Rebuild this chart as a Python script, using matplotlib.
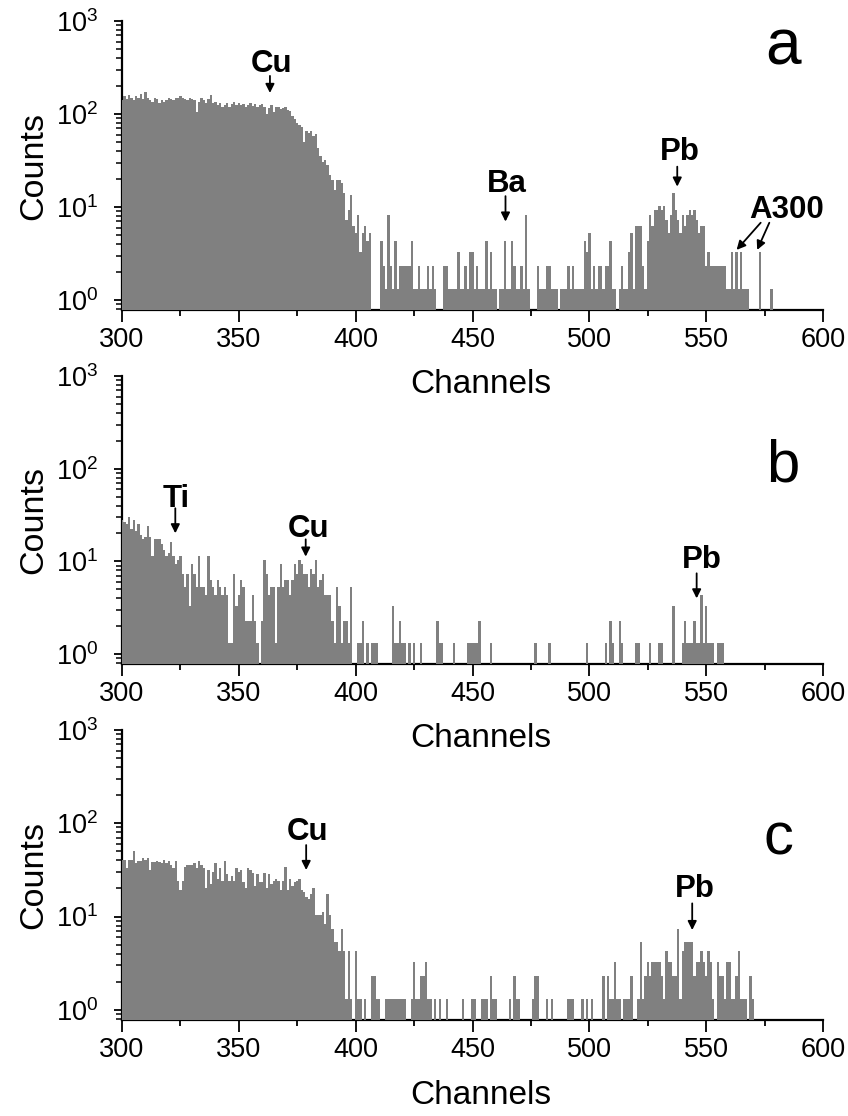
import numpy as np
import matplotlib.pyplot as plt
from matplotlib.ticker import MultipleLocator, LogLocator, NullFormatter

plt.rcParams['font.family'] = ['Liberation Sans', 'DejaVu Sans']
plt.rcParams['mathtext.default'] = 'regular'

channels = np.arange(300, 600)

# counts per channel, 10 channels per row (300..599)
counts_a = [
    140, 155, 145, 160, 150, 140, 155, 150, 165, 145,
    170, 150, 140, 135, 150, 145, 130, 140, 135, 140,
    150, 145, 140, 150, 148, 155, 150, 145, 140, 150,
    145, 140, 105, 135, 150, 140, 130, 145, 160, 130,
    135, 125, 130, 120, 125, 130, 120, 128, 135, 125,
    130, 125, 128, 120, 125, 130, 122, 128, 120, 125,
    128, 120, 100, 115, 125, 105, 118, 120, 112, 115,
    118, 110, 108, 95, 88, 80, 75, 72, 50, 65,
    62, 65, 58, 60, 43, 35, 30, 32, 28, 22,
    19, 15, 19, 19, 18, 14, 7, 9, 13, 6,
    5, 8, 3, 5, 6, 4, 5, 0, 0, 0,
    0, 4, 2, 1, 8, 2, 1, 4, 1, 2,
    2, 2, 2, 2, 4, 1, 1, 2, 1, 1,
    1, 2, 1, 2, 1, 0, 0, 0, 2, 2,
    1, 1, 1, 1, 3, 1, 1, 2, 1, 3,
    3, 1, 2, 1, 1, 1, 4, 1, 3, 1,
    1, 0, 1, 1, 4, 1, 1, 4, 2, 1,
    1, 2, 1, 8, 1, 0, 0, 0, 2, 1,
    1, 1, 2, 2, 1, 1, 1, 0, 1, 1,
    1, 2, 1, 2, 1, 1, 1, 1, 4, 3,
    5, 1, 2, 1, 2, 2, 1, 2, 2, 4,
    1, 1, 0, 1, 2, 1, 1, 3, 5, 1,
    6, 6, 6, 2, 1, 4, 8, 6, 9, 9,
    10, 9, 10, 7, 5, 8, 14, 9, 7, 5,
    8, 6, 8, 9, 8, 9, 7, 5, 6, 6,
    2, 3, 2, 2, 2, 2, 2, 2, 2, 1,
    1, 3, 1, 3, 1, 3, 1, 1, 1, 0,
    0, 0, 0, 3, 0, 0, 0, 0, 1, 0,
    0, 0, 0, 0, 0, 0, 0, 0, 0, 0,
    0, 0, 0, 0, 0, 0, 0, 0, 0, 0,
]

counts_b = [
    28, 26, 25, 30, 22, 28, 21, 25, 19, 17,
    18, 24, 18, 11, 17, 17, 17, 15, 13, 11,
    12, 16, 11, 9, 10, 11, 7, 5, 7, 3,
    9, 7, 5, 11, 5, 5, 4, 11, 6, 5,
    4, 6, 5, 4, 5, 4, 1, 1, 7, 3,
    4, 6, 5, 2, 2, 2, 4, 2, 1, 0,
    2, 10, 7, 4, 5, 5, 1, 5, 9, 5,
    6, 6, 4, 6, 9, 7, 10, 9, 7, 7,
    5, 8, 7, 10, 5, 6, 7, 4, 4, 4,
    2, 1, 5, 3, 1, 2, 2, 1, 5, 0,
    0, 1, 1, 2, 0, 1, 0, 1, 1, 1,
    0, 0, 0, 0, 0, 0, 3, 1, 1, 2,
    1, 1, 0, 1, 0, 1, 0, 0, 1, 0,
    0, 0, 0, 0, 0, 2, 1, 1, 0, 0,
    0, 0, 1, 0, 0, 0, 0, 0, 1, 1,
    1, 1, 1, 2, 0, 0, 0, 0, 1, 0,
    0, 0, 0, 0, 0, 0, 0, 0, 0, 0,
    0, 0, 0, 0, 0, 0, 0, 1, 0, 0,
    0, 0, 0, 1, 0, 0, 0, 0, 0, 0,
    0, 0, 0, 0, 0, 0, 0, 0, 0, 1,
    0, 0, 0, 0, 0, 0, 0, 1, 0, 2,
    1, 0, 0, 2, 1, 0, 0, 0, 0, 0,
    1, 1, 0, 0, 0, 0, 1, 0, 0, 0,
    1, 1, 0, 0, 0, 0, 3, 0, 0, 0,
    1, 2, 1, 1, 1, 2, 1, 1, 4, 1,
    3, 1, 1, 1, 0, 1, 1, 1, 0, 0,
    0, 0, 0, 0, 0, 0, 0, 0, 0, 0,
    0, 0, 0, 0, 0, 0, 0, 0, 0, 0,
    0, 0, 0, 0, 0, 0, 0, 0, 0, 0,
    0, 0, 0, 0, 0, 0, 0, 0, 0, 0,
]

counts_c = [
    40, 40, 33, 40, 40, 50, 37, 39, 39, 42,
    40, 42, 31, 38, 38, 39, 38, 37, 40, 37,
    39, 35, 33, 39, 24, 19, 24, 34, 35, 35,
    35, 37, 33, 39, 35, 33, 20, 31, 22, 30,
    37, 25, 33, 24, 39, 28, 24, 27, 24, 33,
    30, 31, 23, 20, 33, 31, 29, 21, 28, 23,
    23, 29, 20, 28, 22, 24, 25, 24, 19, 24,
    34, 19, 25, 21, 23, 24, 25, 19, 18, 16,
    15, 17, 20, 10, 10, 10, 11, 8, 17, 10,
    7, 5, 5, 4, 7, 4, 1, 4, 1, 0,
    4, 1, 1, 0, 1, 0, 0, 2, 2, 1,
    1, 0, 0, 1, 1, 1, 1, 1, 1, 1,
    1, 1, 0, 0, 1, 3, 1, 1, 2, 2,
    3, 1, 1, 0, 1, 0, 1, 0, 0, 1,
    0, 0, 0, 0, 0, 0, 1, 0, 0, 0,
    1, 1, 0, 0, 1, 1, 1, 0, 2, 1,
    1, 0, 0, 0, 0, 0, 1, 0, 2, 1,
    1, 0, 0, 0, 0, 0, 1, 2, 2, 0,
    0, 0, 1, 0, 1, 0, 0, 0, 0, 0,
    0, 1, 1, 1, 0, 0, 0, 1, 0, 1,
    0, 1, 0, 0, 0, 0, 2, 0, 2, 1,
    1, 3, 1, 1, 0, 1, 1, 1, 2, 0,
    0, 1, 5, 1, 2, 3, 2, 3, 3, 3,
    3, 2, 1, 4, 3, 3, 2, 2, 7, 1,
    4, 5, 5, 5, 5, 2, 3, 3, 4, 3,
    2, 4, 3, 1, 0, 3, 2, 2, 1, 3,
    3, 1, 1, 2, 4, 1, 1, 1, 0, 2,
    1, 0, 0, 0, 0, 0, 0, 0, 0, 0,
    0, 0, 0, 0, 0, 0, 0, 0, 0, 0,
    0, 0, 0, 0, 0, 0, 0, 0, 0, 0,
]

# peak labels: (text, label x, label y, [(arrow x0, y0, x1, y1), ...]); y in axes fraction
peaks_a = [
    ("Cu", 363.8, 0.825, [(363.3, 0.810, 363.3, 0.751)]),
    ("Ba", 464.7, 0.409, [(464.1, 0.394, 464.1, 0.306)]),
    ("Pb", 538.8, 0.519, [(537.6, 0.496, 537.6, 0.427)]),
    ("A300", 584.3, 0.318, [(573.3, 0.302, 563.0, 0.208), (577.0, 0.302, 571.8, 0.208)]),
]
peaks_b = [
    ("Ti", 323.2, 0.546, [(322.8, 0.541, 322.8, 0.454)]),
    ("Cu", 379.9, 0.442, [(378.6, 0.433, 378.6, 0.373)]),
    ("Pb", 548.2, 0.332, [(545.9, 0.315, 545.9, 0.228)]),
]
peaks_c = [
    ("Cu", 379.3, 0.621, [(378.8, 0.603, 378.8, 0.517)]),
    ("Pb", 545.2, 0.425, [(544.0, 0.402, 544.0, 0.310)]),
]

panels = [
    ("a", counts_a, peaks_a, [0.1439, 0.7222, 0.8267, 0.259], 46, 582.8, 0.848),
    ("b", counts_b, peaks_b, [0.1439, 0.4050, 0.8267, 0.258], 43, 582.8, 0.633),
    ("c", counts_c, peaks_c, [0.1439, 0.0860, 0.8267, 0.260], 43, 581.0, 0.569),
]

fig = plt.figure(figsize=(8.48, 11.16), dpi=100)

for letter, counts, peaks, rect, lsize, lx, ly in panels:
    ax = fig.add_axes(rect)
    ax.patch.set_visible(False)
    counts = np.array(counts)
    m = counts > 0
    ax.bar(channels[m], counts[m], width=1.0, bottom=0.3, color='#808080',
           linewidth=0, zorder=3)
    ax.set_yscale('log')
    ax.set_xlim(300, 600)
    ax.set_ylim(0.78, 1000)

    for s in ['top', 'right']:
        ax.spines[s].set_visible(False)
    for s in ['left', 'bottom']:
        ax.spines[s].set_linewidth(1.6)
        ax.spines[s].set_zorder(2)

    ax.xaxis.set_major_locator(MultipleLocator(50))
    ax.xaxis.set_minor_locator(MultipleLocator(25))
    ax.yaxis.set_major_locator(LogLocator(base=10, numticks=10))
    ax.yaxis.set_minor_locator(LogLocator(base=10, subs=np.arange(2, 10), numticks=10))
    ax.yaxis.set_minor_formatter(NullFormatter())
    ax.tick_params(axis='x', which='major', direction='out', length=8.5, width=1.3,
                   labelsize=19.5, pad=4)
    ax.tick_params(axis='x', which='minor', direction='out', length=4.5, width=1.3)
    ax.tick_params(axis='y', which='major', direction='out', length=6, width=1.3,
                   labelsize=19.5, pad=11)
    ax.tick_params(axis='y', which='minor', direction='out', length=4, width=1.1)

    ax.set_xlabel("Channels", fontsize=24)
    ax.set_ylabel("Counts", fontsize=24.5)
    ax.xaxis.set_label_coords(0.512, -0.205)
    ax.yaxis.set_label_coords(-0.104, 0.5)

    ax.text(lx, ly, letter, fontsize=lsize, ha='center', va='baseline',
            transform=ax.get_xaxis_transform())

    for name, tx, ty, arrows in peaks:
        ax.text(tx, ty, name, fontsize=22.5, fontweight='bold', ha='center',
                va='baseline', transform=ax.get_xaxis_transform(), zorder=5)
        for x0, y0, x1, y1 in arrows:
            ax.annotate("", xy=(x1, y1), xytext=(x0, y0),
                        xycoords=('data', 'axes fraction'),
                        textcoords=('data', 'axes fraction'),
                        arrowprops=dict(arrowstyle='-|>', color='k', lw=1.3,
                                        mutation_scale=13, shrinkA=0, shrinkB=0),
                        zorder=5)

plt.savefig("out.png", dpi=100)
